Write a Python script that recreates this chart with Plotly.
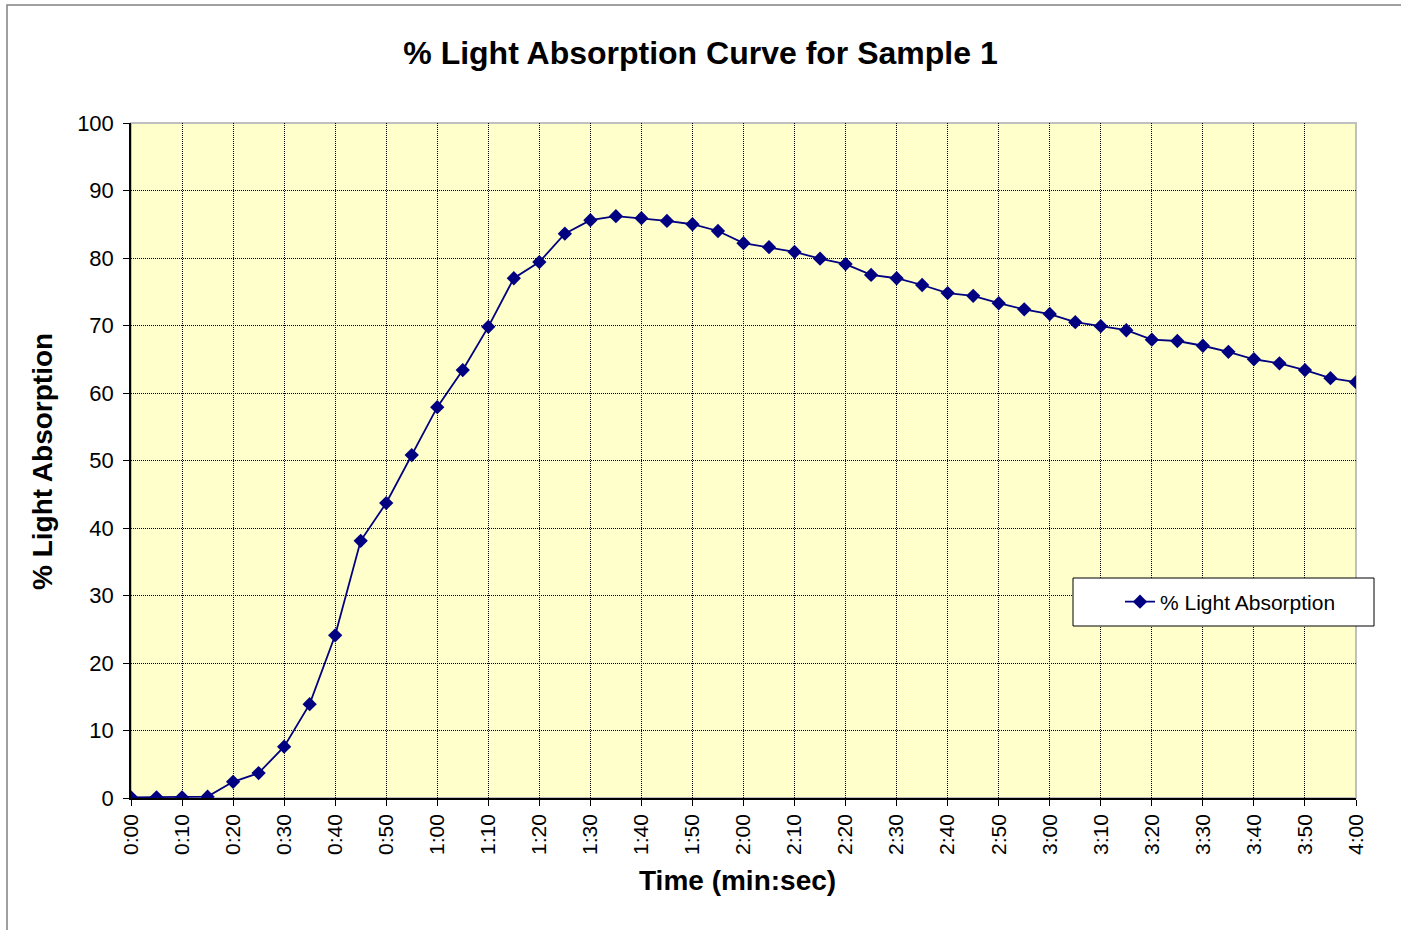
import plotly.graph_objects as go

# Data
seconds = list(range(0, 245, 5))
absorption = [0.1, 0.1, 0.1, 0.2, 2.4, 3.7, 7.6, 13.9, 24.1, 38.1,
              43.7, 50.8, 57.9, 63.4, 69.8, 77.0, 79.4, 83.6, 85.6, 86.2,
              85.9, 85.5, 85.0, 84.0, 82.2, 81.6, 80.9, 79.9, 79.1, 77.5,
              77.0, 76.0, 74.8, 74.4, 73.3, 72.4, 71.7, 70.5, 69.9, 69.3,
              67.9, 67.7, 67.0, 66.1, 65.0, 64.4, 63.4, 62.2, 61.6]
tick_vals = list(range(0, 250, 10))
tick_text = [f"{s // 60}:{s % 60:02d}" for s in tick_vals]

W, H = 1401, 930
L, R, T, B = 131, 45, 123, 132
pw, ph = W - L - R, H - T - B

def px(x):
    return (x - L) / pw

def py(y):
    return (H - B - y) / ph

FONT = "Liberation Sans, Arial, sans-serif"
NAVY = "#000080"
GRID_DASH = "1px,1px"

fig = go.Figure()
fig.add_trace(go.Scatter(
    x=seconds, y=absorption, mode="lines+markers",
    name="% Light Absorption",
    line=dict(color=NAVY, width=1.8),
    marker=dict(symbol="diamond", size=11, color=NAVY),
))

fig.update_layout(
    width=W, height=H,
    margin=dict(l=L, r=R, t=T, b=B),
    paper_bgcolor="white",
    plot_bgcolor="#FFFFCC",
    font=dict(family=FONT, color="black"),
    title=dict(text="<b>% Light Absorption Curve for Sample 1</b>",
               x=0.5, xanchor="center", y=1 - 53 / H, yanchor="middle",
               font=dict(size=32, family=FONT)),
    showlegend=True,
    legend=dict(x=px(1120), y=py(602), xanchor="left", yanchor="middle",
                bgcolor="rgba(0,0,0,0)", borderwidth=0,
                font=dict(size=21, family=FONT)),
    shapes=[
        # outer chart border
        dict(type="rect", xref="paper", yref="paper",
             x0=px(7), x1=px(1420), y0=py(950), y1=py(5),
             line=dict(color="#808080", width=1.5), layer="below"),
        # plot area border (top/right light gray)
        dict(type="rect", xref="paper", yref="paper",
             x0=0, x1=1, y0=0, y1=1,
             line=dict(color="#C0C0C0", width=2), layer="below"),
        # legend box
        dict(type="rect", xref="paper", yref="paper",
             x0=px(1073), x1=px(1374), y0=py(626), y1=py(578),
             fillcolor="white", line=dict(color="black", width=1), layer="above"),
    ],
    annotations=[
        dict(text="<b>Time (min:sec)</b>", xref="paper", yref="paper",
             x=px(737), y=py(880), xanchor="center", yanchor="middle",
             showarrow=False, font=dict(size=28, family=FONT)),
        dict(text="<b>% Light Absorption</b>", xref="paper", yref="paper",
             x=px(42), y=py(462), xanchor="center", yanchor="middle",
             textangle=-90, showarrow=False, font=dict(size=28, family=FONT)),
    ],
)

fig.update_xaxes(
    range=[0, 240], tickmode="array", tickvals=tick_vals, ticktext=tick_text,
    tickangle=-90, tickfont=dict(size=21, family=FONT),
    ticks="outside", ticklen=6, tickcolor="black",
    showline=True, linecolor="black", linewidth=1.5,
    showgrid=True, gridcolor="black", gridwidth=1, griddash=GRID_DASH,
    zeroline=False,
)
fig.update_yaxes(
    range=[0, 100], tickmode="array", tickvals=list(range(0, 110, 10)),
    tickfont=dict(size=22, family=FONT), ticklabelstandoff=5,
    ticks="outside", ticklen=6, tickcolor="black",
    showline=True, linecolor="black", linewidth=1.5,
    showgrid=True, gridcolor="black", gridwidth=1, griddash=GRID_DASH,
    zeroline=False,
)

fig.write_html("out.html", config={"displayModeBar": False},
               post_script="document.body.style.margin='0';document.body.style.overflow='hidden';")
